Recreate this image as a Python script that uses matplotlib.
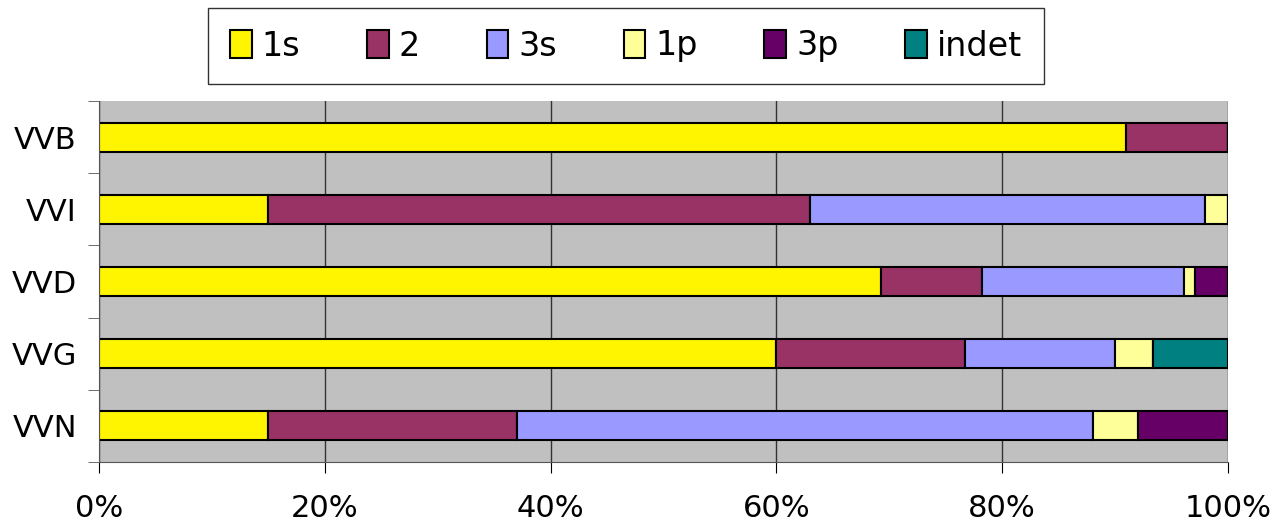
import numpy as np
from matplotlib import pyplot as plt
from matplotlib.ticker import PercentFormatter

cats = ['VVB', 'VVI', 'VVD', 'VVG', 'VVN']
series = ['1s', '2', '3s', '1p', '3p', 'indet']
s_1s = [91.0, 15.0, 69.3, 60.0, 15.0]
s_2 = [9.0, 48.0, 8.9, 16.7, 22.0]
s_3s = [0.0, 35.0, 17.9, 13.3, 51.0]
s_1p = [0.0, 2.0, 1.0, 3.4, 4.0]
s_3p = [0.0, 0.0, 2.9, 0.0, 8.0]
s_indet = [0.0, 0.0, 0.0, 6.6, 0.0]
colors = ['#FFF500', '#993366', '#9999FF', '#FFFF99', '#660066', '#008080']

plt.rcParams['font.family'] = ['DejaVu Sans']
fig = plt.figure(figsize=(12.75, 5.22), dpi=100)
ax = fig.add_axes([99/1275, 60/522, 1129/1275, 361/522])
ax.set_facecolor('#C0C0C0')

y = np.arange(len(cats))
left = np.zeros(len(cats))
for name, vals, c in zip(series, [s_1s, s_2, s_3s, s_1p, s_3p, s_indet], colors):
    vals = np.array(vals)
    ax.barh(y, vals, left=left, height=0.4, color=c, edgecolor='black',
            linewidth=1.5, label=name)
    left += vals

ax.set_xlim(0, 100)
ax.set_ylim(len(cats) - 0.5, -0.5)
ax.set_xticks(np.arange(0, 101, 20))
ax.xaxis.set_major_formatter(PercentFormatter(decimals=0))
ax.set_yticks(y)
ax.set_yticklabels(cats)
ax.set_yticks(np.arange(-0.5, len(cats), 1), minor=True)
ax.tick_params(axis='y', which='major', length=0, labelsize=22, pad=16)
ax.tick_params(axis='y', which='minor', length=8, direction='out', color='#555555')
ax.tick_params(axis='x', length=8, direction='out', labelsize=22, pad=15)
ax.grid(axis='x', color='#333333', linewidth=1)
ax.set_axisbelow(True)
for s in ['top', 'right']:
    ax.spines[s].set_visible(False)
ax.spines['left'].set_color('#555555')
ax.spines['bottom'].set_color('#555555')

leg = fig.legend(loc='center', bbox_to_anchor=(626/1275, 1 - 46/522), ncol=6,
                 fontsize=24, frameon=True, fancybox=False, edgecolor='black',
                 handlelength=0.65, handleheight=0.9, handletextpad=0.3,
                 columnspacing=2.0, borderpad=0.65)
leg.get_frame().set_linewidth(1)

fig.savefig('out.png', dpi=100)
